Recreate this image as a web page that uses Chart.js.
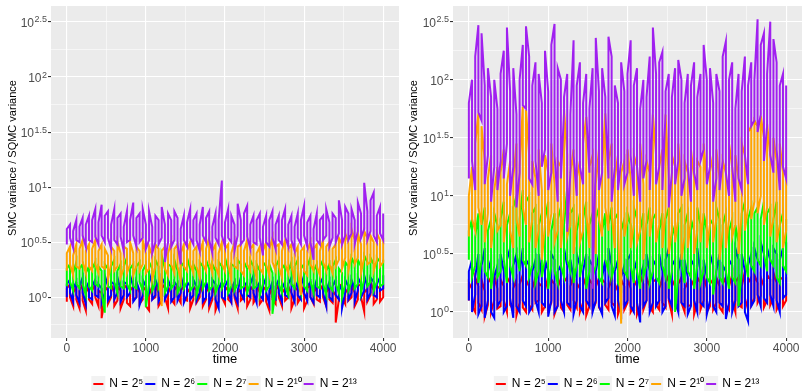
<!DOCTYPE html>
<html>
<head>
<meta charset="utf-8">
<script src="https://cdn.jsdelivr.net/npm/chart.js@4.4.1/dist/chart.umd.min.js"></script>
<style>
  body { margin: 0; background: #fff; }
  #wrap { position: relative; width: 803px; height: 391px; }
  #leftBox { position: absolute; left: 0; top: 0; width: 401px; height: 391px; }
  #rightBox { position: absolute; left: 401px; top: 0; width: 402px; height: 391px; }
</style>
</head>
<body>
<div id="wrap">
  <div id="leftBox"><canvas id="leftChart" width="401" height="391"></canvas></div>
  <div id="rightBox"><canvas id="rightChart" width="402" height="391"></canvas></div>
</div>
<script>
// --- data: log10(SMC variance / SQMC variance) ---
// each series is read as the low and high end of the trace in every 40-step column
const times = Array.from({ length: 101 }, (_, i) => i * 40);

const seriesLabels = ["N = 2⁵", "N = 2⁶", "N = 2⁷", "N = 2¹⁰", "N = 2¹³"];
const seriesColors = ["#FF0000", "#0000FF", "#00FF00", "#FFA500", "#A020F0"];

const xTickValues = [0, 1000, 2000, 3000, 4000];
const xGridValues = [0, 500, 1000, 1500, 2000, 2500, 3000, 3500, 4000];
const yTickExps = [0, 0.5, 1, 1.5, 2, 2.5];
const yGridExps = [-0.25, 0, 0.25, 0.5, 0.75, 1, 1.25, 1.5, 1.75, 2, 2.25, 2.5];
const yTitle = "SMC variance / SQMC variance";

// ---------- left panel ----------
const leftN5Hi = [
  0.08, 0.12, 0.04, 0.10, 0.06, 0.12, 0.04, 0.10, 0.06, 0.12,
  0.06, 0.04, 0.10, 0.06, 0.12, 0.04, 0.10, 0.06, 0.12, 0.08,
  0.06, 0.10, 0.12, 0.04, 0.10, 0.06, 0.02, 0.10, 0.12, 0.04,
  0.08, 0.12, 0.04, 0.10, 0.06, 0.12, 0.06, 0.10, 0.08, 0.04,
  0.10, 0.06, 0.12, 0.04, 0.10, 0.04, 0.10, 0.02, 0.08, 0.12,
  0.06, 0.10, 0.04, 0.12, 0.04, 0.08, 0.12, 0.04, 0.10, 0.06,
  0.12, 0.04, 0.10, 0.06, 0.02, 0.10, 0.06, 0.12, 0.04, 0.08,
  0.10, 0.04, 0.10, 0.06, 0.12, 0.02, 0.08, 0.12, 0.04, 0.10,
  0.06, 0.12, 0.04, 0.10, 0.06, 0.02, 0.10, 0.12, 0.04, 0.08,
  0.12, 0.04, 0.10, 0.12, 0.04, 0.08, 0.14, 0.06, 0.10, 0.08,
  0.12
];
const leftN5Lo = [
  -0.04, 0.00, -0.08, -0.02, -0.10, -0.03, -0.12, -0.02, -0.06, 0.00,
  -0.08, -0.19, -0.02, -0.06, 0.00, -0.08, -0.03, -0.10, -0.02, -0.05,
  -0.08, -0.02, 0.00, -0.06, -0.02, -0.08, -0.12, -0.02, 0.00, -0.08,
  -0.03, 0.00, -0.10, -0.02, -0.06, 0.00, -0.05, -0.02, -0.03, -0.10,
  -0.02, -0.05, 0.00, -0.08, -0.02, -0.10, -0.02, -0.12, -0.04, 0.00,
  -0.06, -0.02, -0.05, 0.00, -0.10, -0.03, 0.00, -0.08, -0.02, -0.05,
  0.00, -0.06, -0.02, -0.04, -0.12, -0.02, -0.06, 0.00, -0.08, -0.03,
  0.00, -0.10, -0.02, -0.05, 0.00, -0.10, -0.03, 0.00, -0.06, -0.02,
  -0.04, 0.00, -0.08, -0.02, -0.05, -0.23, -0.02, 0.00, -0.06, -0.03,
  0.00, -0.08, -0.02, 0.00, -0.13, -0.04, 0.02, -0.06, -0.02, -0.04,
  0.00
];
const leftN6Hi = [
  0.12, 0.16, 0.08, 0.14, 0.10, 0.18, 0.08, 0.14, 0.10, 0.16,
  0.12, 0.08, 0.20, 0.10, 0.14, 0.12, 0.18, 0.08, 0.14, 0.12,
  0.20, 0.10, 0.14, 0.06, 0.16, 0.10, 0.22, 0.12, 0.16, 0.08,
  0.18, 0.12, 0.16, 0.08, 0.14, 0.10, 0.20, 0.08, 0.14, 0.10,
  0.16, 0.10, 0.18, 0.08, 0.14, 0.06, 0.16, 0.12, 0.08, 0.14,
  0.10, 0.16, 0.08, 0.14, 0.06, 0.18, 0.10, 0.14, 0.12, 0.20,
  0.08, 0.14, 0.10, 0.18, 0.06, 0.14, 0.10, 0.16, 0.08, 0.14,
  0.12, 0.18, 0.08, 0.14, 0.10, 0.20, 0.10, 0.14, 0.06, 0.16,
  0.12, 0.18, 0.06, 0.14, 0.10, 0.16, 0.12, 0.06, 0.16, 0.10,
  0.16, 0.08, 0.18, 0.12, 0.20, 0.10, 0.18, 0.14, 0.12, 0.18,
  0.20
];
const leftN6Lo = [
  0.00, 0.04, -0.04, 0.02, -0.05, 0.04, -0.06, 0.00, -0.02, 0.02,
  0.00, -0.05, 0.04, -0.03, 0.02, -0.02, 0.04, -0.04, 0.02, 0.00,
  0.04, -0.04, 0.00, -0.07, 0.02, -0.02, 0.04, -0.02, 0.02, -0.04,
  0.02, -0.02, 0.04, -0.04, 0.00, -0.03, 0.04, -0.05, 0.02, -0.02,
  0.02, -0.03, 0.04, -0.04, 0.00, -0.05, 0.02, -0.02, -0.10, 0.00,
  -0.02, 0.04, -0.04, 0.02, -0.05, 0.04, -0.02, 0.02, 0.00, 0.04,
  -0.05, 0.02, -0.02, 0.04, -0.06, 0.00, -0.02, 0.04, -0.04, 0.02,
  0.00, 0.04, -0.04, 0.02, -0.02, 0.04, -0.03, 0.00, -0.05, 0.02,
  0.00, 0.04, -0.08, 0.00, -0.03, 0.02, -0.02, -0.10, 0.04, -0.02,
  0.04, -0.04, 0.06, 0.00, 0.06, -0.02, 0.04, 0.02, 0.00, 0.06,
  0.08
];
const leftN7Hi = [
  0.26, 0.30, 0.22, 0.32, 0.26, 0.30, 0.22, 0.28, 0.26, 0.32,
  0.28, 0.24, 0.30, 0.26, 0.28, 0.34, 0.24, 0.30, 0.28, 0.36,
  0.26, 0.30, 0.28, 0.32, 0.24, 0.30, 0.32, 0.26, 0.34, 0.28,
  0.38, 0.26, 0.30, 0.28, 0.34, 0.24, 0.32, 0.28, 0.36, 0.26,
  0.30, 0.24, 0.32, 0.28, 0.34, 0.26, 0.30, 0.24, 0.32, 0.28,
  0.36, 0.26, 0.30, 0.28, 0.34, 0.30, 0.32, 0.26, 0.34, 0.28,
  0.30, 0.24, 0.32, 0.28, 0.30, 0.22, 0.28, 0.34, 0.26, 0.30,
  0.24, 0.32, 0.28, 0.34, 0.26, 0.30, 0.28, 0.36, 0.24, 0.30,
  0.28, 0.34, 0.24, 0.30, 0.28, 0.34, 0.26, 0.22, 0.32, 0.28,
  0.36, 0.30, 0.34, 0.28, 0.38, 0.32, 0.36, 0.30, 0.36, 0.32,
  0.34
];
const leftN7Lo = [
  0.10, 0.14, 0.06, 0.12, 0.08, 0.12, 0.02, 0.10, 0.06, 0.12,
  0.10, 0.04, -0.14, 0.10, 0.08, 0.14, 0.04, 0.10, 0.08, 0.12,
  0.06, 0.10, 0.08, 0.14, 0.06, -0.09, 0.12, 0.06, 0.12, 0.08,
  0.14, 0.04, 0.10, 0.08, 0.12, 0.04, 0.10, 0.08, 0.14, 0.06,
  0.10, 0.02, 0.12, 0.08, 0.14, 0.06, 0.10, 0.04, 0.12, 0.08,
  0.14, 0.04, 0.10, 0.06, 0.12, 0.08, 0.10, 0.04, 0.12, 0.08,
  0.10, 0.02, 0.12, 0.06, 0.10, -0.15, 0.08, 0.12, 0.04, 0.10,
  0.02, 0.12, 0.08, 0.14, 0.04, 0.10, 0.06, 0.14, 0.04, 0.10,
  0.08, 0.12, 0.02, 0.10, 0.06, 0.12, 0.04, 0.00, 0.12, 0.06,
  0.14, 0.08, 0.12, 0.04, 0.16, 0.10, 0.14, 0.06, 0.14, 0.10,
  0.12
];
const leftN10Hi = [
  0.40, 0.46, 0.38, 0.48, 0.44, 0.52, 0.42, 0.48, 0.44, 0.52,
  0.42, 0.48, 0.44, 0.38, 0.46, 0.42, 0.50, 0.40, 0.46, 0.44,
  0.50, 0.40, 0.46, 0.42, 0.52, 0.40, 0.46, 0.38, 0.48, 0.44,
  0.42, 0.46, 0.40, 0.50, 0.44, 0.48, 0.40, 0.48, 0.42, 0.50,
  0.42, 0.46, 0.40, 0.50, 0.44, 0.54, 0.42, 0.48, 0.40, 0.50,
  0.44, 0.48, 0.40, 0.50, 0.46, 0.48, 0.42, 0.52, 0.44, 0.48,
  0.40, 0.46, 0.42, 0.50, 0.44, 0.54, 0.46, 0.48, 0.42, 0.52,
  0.44, 0.48, 0.40, 0.46, 0.42, 0.46, 0.42, 0.50, 0.44, 0.48,
  0.42, 0.52, 0.46, 0.50, 0.44, 0.48, 0.54, 0.48, 0.58, 0.50,
  0.62, 0.52, 0.58, 0.48, 0.60, 0.54, 0.56, 0.50, 0.58, 0.52,
  0.54
];
const leftN10Lo = [
  0.24, 0.30, 0.20, 0.28, 0.26, 0.32, 0.22, 0.28, 0.24, 0.30,
  0.22, 0.28, 0.26, 0.16, 0.30, 0.24, 0.28, 0.18, 0.26, 0.22,
  0.30, 0.20, 0.28, 0.24, 0.30, 0.22, 0.26, 0.16, 0.28, 0.24,
  -0.08, 0.26, 0.20, 0.30, 0.22, 0.28, 0.16, 0.28, 0.24, 0.30,
  0.22, 0.28, 0.18, 0.30, 0.24, 0.32, 0.22, 0.28, 0.20, 0.30,
  0.24, 0.30, 0.16, 0.28, 0.26, 0.24, 0.20, 0.30, 0.24, 0.28,
  0.18, 0.26, 0.22, 0.30, 0.20, 0.32, 0.24, 0.28, 0.18, 0.30,
  0.22, 0.28, 0.16, 0.26, 0.02, 0.24, 0.20, 0.30, 0.24, 0.28,
  0.20, 0.32, 0.24, 0.30, 0.22, 0.28, 0.34, 0.26, 0.36, 0.24,
  0.38, 0.30, 0.36, 0.22, 0.36, 0.30, 0.32, 0.24, 0.34, 0.28,
  0.32
];
const leftN13Hi = [
  0.62, 0.66, 0.60, 0.70, 0.64, 0.72, 0.66, 0.74, 0.70, 0.80,
  0.68, 0.84, 0.74, 0.78, 0.66, 0.80, 0.72, 0.76, 0.64, 0.78,
  0.70, 0.86, 0.72, 0.76, 0.80, 0.66, 0.78, 0.64, 0.74, 0.70,
  0.82, 0.66, 0.76, 0.70, 0.78, 0.72, 0.62, 0.74, 0.68, 0.80,
  0.70, 0.76, 0.66, 0.82, 0.72, 0.78, 0.64, 0.76, 0.70, 1.06,
  0.68, 0.80, 0.74, 0.66, 0.85, 0.70, 0.76, 0.83, 0.66, 0.74,
  0.70, 0.76, 0.64, 0.74, 0.70, 0.78, 0.66, 0.74, 0.70, 0.80,
  0.66, 0.74, 0.64, 0.76, 0.70, 0.83, 0.68, 0.74, 0.62, 0.76,
  0.70, 0.74, 0.80, 0.68, 0.76, 0.72, 0.88, 0.70, 0.82, 0.76,
  0.80, 0.70, 0.86, 0.76, 1.04, 0.78, 0.88, 0.95, 0.74, 0.82,
  0.76
];
const leftN13Lo = [
  0.48, 0.54, 0.45, 0.52, 0.50, 0.56, 0.46, 0.52, 0.50, 0.55,
  0.48, 0.56, 0.50, 0.54, 0.44, 0.52, 0.48, 0.55, 0.42, 0.50,
  0.52, 0.56, 0.46, 0.50, 0.54, 0.44, 0.52, 0.40, 0.50, 0.48,
  0.54, 0.32, 0.50, 0.46, 0.52, 0.48, 0.30, 0.52, 0.46, 0.54,
  0.48, 0.52, 0.42, 0.56, 0.50, 0.52, 0.40, 0.54, 0.48, 0.56,
  0.46, 0.54, 0.50, 0.42, 0.56, 0.48, 0.52, 0.55, 0.44, 0.50,
  0.48, 0.54, 0.38, 0.50, 0.46, 0.54, 0.44, 0.52, 0.48, 0.55,
  0.46, 0.52, 0.42, 0.54, 0.48, 0.56, 0.46, 0.50, 0.34, 0.52,
  0.48, 0.52, 0.56, 0.46, 0.54, 0.50, 0.58, 0.48, 0.56, 0.52,
  0.58, 0.48, 0.60, 0.54, 0.62, 0.52, 0.60, 0.56, 0.50, 0.58,
  0.52
];

// ---------- right panel ----------
const rightN5Hi = [
  0.25, 0.20, 0.30, 0.22, 0.28, 0.18, 0.30, 0.25, 0.32, 0.20,
  0.28, 0.22, 0.30, 0.25, 0.20, 0.28, 0.24, 0.32, 0.22, 0.28,
  0.20, 0.30, 0.25, 0.22, 0.30, 0.18, 0.28, 0.24, 0.30, 0.22,
  0.26, 0.30, 0.22, 0.32, 0.25, 0.20, 0.30, 0.22, 0.28, 0.24,
  0.30, 0.22, 0.28, 0.25, 0.20, 0.30, 0.24, 0.18, 0.28, 0.22,
  0.30, 0.20, 0.28, 0.22, 0.32, 0.24, 0.30, 0.22, 0.26, 0.28,
  0.20, 0.30, 0.25, 0.32, 0.22, 0.28, 0.24, 0.30, 0.20, 0.26,
  0.28, 0.22, 0.30, 0.25, 0.32, 0.20, 0.28, 0.24, 0.30, 0.22,
  0.24, 0.30, 0.22, 0.32, 0.26, 0.30, 0.22, 0.35, 0.25, 0.30,
  0.32, 0.25, 0.30, 0.22, 0.32, 0.28, 0.34, 0.25, 0.30, 0.28,
  0.30
];
const rightN5Lo = [
  0.10, 0.05, 0.00, 0.08, 0.02, -0.04, 0.06, 0.00, 0.10, 0.03,
  0.05, 0.10, 0.00, 0.06, 0.02, -0.03, 0.08, 0.04, 0.00, 0.06,
  0.02, 0.08, 0.10, 0.00, 0.05, 0.02, 0.08, -0.02, 0.06, 0.04,
  0.00, 0.06, 0.02, 0.10, 0.04, 0.00, 0.08, -0.03, 0.05, 0.02,
  0.08, 0.04, 0.00, 0.06, 0.02, 0.08, 0.05, -0.02, 0.06, 0.02,
  0.08, 0.00, 0.05, -0.02, 0.06, 0.02, 0.10, 0.04, 0.00, 0.06,
  0.02, 0.08, 0.04, 0.10, -0.02, 0.05, 0.02, 0.08, 0.00, 0.05,
  0.06, -0.02, 0.08, 0.02, 0.10, 0.00, 0.05, 0.02, 0.08, 0.04,
  0.00, 0.06, 0.02, 0.10, 0.00, 0.06, 0.04, 0.12, 0.02, 0.06,
  0.12, 0.08, 0.14, 0.04, 0.10, 0.06, 0.12, 0.02, 0.08, 0.05,
  0.10
];
const rightN6Hi = [
  0.35, 0.45, 0.30, 0.50, 0.40, 0.55, 0.35, 0.45, 0.30, 0.40,
  0.50, 0.35, 0.45, 0.55, 0.40, 0.50, 0.35, 0.55, 0.45, 0.40,
  0.35, 0.45, 0.50, 0.30, 0.45, 0.35, 0.50, 0.45, 0.35, 0.40,
  0.55, 0.40, 0.45, 0.30, 0.50, 0.40, 0.35, 0.50, 0.45, 0.40,
  0.35, 0.50, 0.30, 0.45, 0.55, 0.40, 0.35, 0.45, 0.30, 0.40,
  0.45, 0.50, 0.35, 0.45, 0.30, 0.40, 0.50, 0.35, 0.45, 0.40,
  0.50, 0.35, 0.45, 0.55, 0.40, 0.45, 0.35, 0.50, 0.45, 0.30,
  0.45, 0.40, 0.55, 0.35, 0.45, 0.30, 0.50, 0.40, 0.35, 0.50,
  0.40, 0.35, 0.45, 0.40, 0.55, 0.45, 0.50, 0.35, 0.40, 0.50,
  0.55, 0.45, 0.60, 0.50, 0.55, 0.45, 0.55, 0.50, 0.45, 0.55,
  0.60
];
const rightN6Lo = [
  0.10, 0.00, 0.15, -0.02, 0.05, -0.05, 0.10, 0.00, -0.05, 0.05,
  0.10, 0.00, 0.05, 0.12, -0.05, 0.05, 0.00, 0.10, 0.05, 0.00,
  0.05, 0.10, 0.00, 0.08, 0.05, -0.04, 0.10, 0.00, 0.05, 0.10,
  0.00, 0.08, 0.05, -0.02, 0.10, 0.05, 0.00, 0.10, 0.05, 0.00,
  0.10, 0.05, -0.02, 0.08, 0.12, 0.05, -0.03, 0.10, 0.00, 0.05,
  0.10, 0.05, 0.00, 0.08, -0.09, 0.05, 0.10, 0.00, 0.08, 0.05,
  0.10, 0.00, 0.05, 0.12, 0.05, 0.10, 0.00, 0.08, 0.05, -0.02,
  0.05, 0.10, 0.00, 0.08, 0.05, -0.02, 0.10, 0.05, 0.00, 0.08,
  0.05, -0.06, 0.08, 0.00, 0.10, 0.05, 0.08, 0.00, -0.08, 0.05,
  0.10, 0.15, 0.05, 0.12, 0.08, 0.15, 0.05, 0.10, 0.00, 0.12,
  0.15
];
const rightN7Hi = [
  0.70, 0.80, 0.65, 0.85, 0.75, 0.90, 0.70, 0.80, 0.85, 0.75,
  0.80, 0.95, 0.75, 0.85, 0.90, 1.00, 0.80, 1.05, 0.95, 1.00,
  0.85, 0.90, 0.75, 0.85, 0.80, 0.95, 0.70, 0.85, 0.80, 0.90,
  0.75, 1.07, 0.85, 0.90, 0.70, 0.85, 0.80, 0.95, 0.75, 0.85,
  0.80, 0.90, 0.70, 0.85, 0.75, 0.90, 0.80, 0.85, 0.70, 0.80,
  0.85, 0.75, 0.90, 0.80, 0.70, 0.85, 0.75, 0.90, 0.80, 0.85,
  0.70, 0.85, 0.80, 0.90, 0.75, 0.65, 0.85, 0.90, 0.75, 0.85,
  0.80, 0.70, 0.90, 0.75, 0.85, 0.70, 0.80, 0.75, 0.90, 0.80,
  0.75, 0.85, 0.70, 0.80, 0.75, 0.60, 0.85, 0.95, 0.80, 0.90,
  0.85, 0.90, 0.80, 0.95, 0.85, 0.90, 0.80, 0.95, 0.75, 0.85,
  0.80
];
const rightN7Lo = [
  0.45, 0.30, 0.40, 0.25, 0.45, 0.35, 0.30, 0.20, 0.40, 0.30,
  0.35, 0.45, 0.25, 0.40, 0.30, 0.50, 0.35, 0.45, 0.40, 0.30,
  0.40, 0.25, 0.35, 0.30, 0.45, 0.20, 0.40, 0.35, 0.25, 0.40,
  0.30, 0.45, 0.35, 0.25, 0.40, 0.30, 0.45, 0.20, 0.35, 0.30,
  0.40, 0.30, 0.25, 0.45, 0.35, 0.30, 0.40, 0.25, 0.20, 0.35,
  0.30, 0.40, 0.25, 0.35, 0.20, 0.30, 0.40, 0.25, 0.35, 0.30,
  0.25, 0.40, 0.30, 0.20, 0.35, 0.00, 0.30, 0.40, 0.25, 0.35,
  0.30, 0.20, 0.40, 0.25, 0.35, 0.30, 0.25, 0.15, 0.35, 0.30,
  0.25, 0.35, 0.20, 0.30, 0.25, 0.05, 0.35, 0.45, 0.30, 0.40,
  0.35, 0.45, 0.40, 0.50, 0.35, 0.45, 0.40, 0.30, 0.25, 0.40,
  0.35
];
const rightN10Hi = [
  1.00, 1.25, 1.45, 1.71, 1.60, 1.30, 1.15, 1.35, 1.05, 1.25,
  1.20, 1.40, 1.10, 1.30, 1.15, 1.45, 1.25, 1.77, 1.74, 1.35,
  1.30, 1.15, 1.40, 1.05, 1.35, 1.20, 1.45, 1.10, 1.30, 1.25,
  1.74, 1.35, 1.20, 1.40, 1.15, 1.30, 1.45, 1.68, 1.25, 1.35,
  1.10, 1.40, 1.25, 1.71, 1.30, 1.45, 1.15, 1.35, 1.20, 1.30,
  1.40, 1.15, 1.35, 1.25, 1.45, 1.10, 1.30, 1.20, 1.70, 1.35,
  1.25, 1.40, 1.70, 1.15, 1.35, 1.25, 1.45, 1.10, 1.30, 1.20,
  1.40, 1.15, 1.30, 1.25, 1.45, 1.10, 1.35, 1.20, 1.40, 1.15,
  1.30, 1.20, 1.45, 1.25, 1.35, 1.15, 1.45, 1.35, 1.55, 1.60,
  1.65, 1.60, 1.69, 1.50, 1.62, 1.35, 1.50, 1.30, 1.45, 1.20,
  1.25
];
const rightN10Lo = [
  0.65, 0.80, 0.70, 0.90, 0.75, 0.60, 0.85, 0.55, 0.80, 0.70,
  0.75, 0.60, 0.85, 0.70, 0.55, 0.80, 0.65, 0.90, 0.75, 0.60,
  0.80, 0.55, 0.70, 0.45, 0.75, 0.65, 0.85, 0.60, 0.70, 0.55,
  0.90, 0.65, 0.75, 0.50, 0.80, 0.60, 0.70, 0.85, 0.55, 0.75,
  0.50, 0.80, 0.65, 0.90, 0.70, 0.85, 0.55, 0.75, -0.10, 0.65,
  0.80, 0.55, 0.75, 0.60, 0.70, 0.45, 0.80, 0.65, 0.85, 0.60,
  0.75, 0.55, 0.85, 0.50, 0.70, 0.60, 0.80, 0.45, 0.65, 0.55,
  0.80, 0.50, 0.70, 0.60, 0.85, 0.55, 0.75, 0.60, 0.80, 0.45,
  0.70, 0.55, 0.80, 0.65, 0.75, 0.50, 0.85, 0.70, 0.90, 0.80,
  0.95, 0.85, 1.00, 0.75, 0.90, 0.65, 0.80, 0.60, 0.75, 0.55,
  0.70
];
const rightN13Hi = [
  1.80, 2.00, 2.20, 2.47, 2.40, 1.95, 2.10, 1.85, 2.00, 1.75,
  2.05, 2.25, 2.45, 1.90, 2.10, 1.70, 2.00, 2.30, 2.46, 2.20,
  1.95, 2.15, 2.05, 1.80, 2.25, 1.90, 2.30, 2.48, 2.10, 2.00,
  1.85, 2.05, 1.70, 2.34, 1.95, 2.15, 1.80, 2.05, 1.75, 2.10,
  2.36, 1.90, 2.10, 1.85, 2.37, 2.20, 1.95, 1.80, 2.15, 1.90,
  2.05, 2.34, 1.95, 2.10, 1.75, 2.00, 1.85, 2.20, 2.45, 2.05,
  2.15, 2.24, 1.90, 2.05, 1.85, 2.10, 2.17, 2.00, 1.80, 2.05,
  1.95, 2.15, 1.85, 2.05, 2.30, 2.00, 2.10, 1.80, 2.05, 1.90,
  2.20, 2.33, 2.00, 2.15, 1.75, 2.05, 1.90, 2.20, 1.95, 2.15,
  2.00, 2.52, 2.30, 2.40, 2.05, 2.50, 2.35, 2.15, 1.95, 2.05,
  1.95
];
const rightN13Lo = [
  1.15, 1.30, 1.05, 1.72, 1.65, 1.10, 1.35, 0.95, 1.25, 1.05,
  1.30, 1.15, 1.45, 1.00, 1.25, 0.90, 1.20, 1.78, 1.75, 1.15,
  1.10, 1.30, 1.00, 1.25, 1.40, 1.05, 1.20, 1.35, 0.95, 1.15,
  1.72, 0.69, 1.20, 1.35, 1.00, 1.25, 1.10, 1.70, 1.20, 0.20,
  1.30, 1.05, 1.20, 1.72, 1.15, 0.95, 1.25, 1.05, 1.30, 1.10,
  1.20, 1.35, 1.00, 1.25, 0.95, 1.15, 1.30, 1.05, 1.72, 1.10,
  1.25, 1.05, 1.72, 0.90, 1.20, 1.10, 1.30, 1.00, 1.15, 1.25,
  0.95, 1.20, 1.05, 1.30, 1.40, 1.10, 1.25, 0.95, 1.15, 1.05,
  1.30, 1.20, 1.00, 1.25, 0.95, 1.15, 1.05, 1.35, 1.10, 1.60,
  1.65, 1.55, 1.70, 1.30, 1.60, 1.35, 1.20, 1.40, 1.05, 1.25,
  1.15
];

// --- helpers ---
const FONT = "'Liberation Sans', Arial, sans-serif";
Chart.defaults.font.family = FONT;
Chart.defaults.animation = false;

const near = (list, v) => list.some(e => Math.abs(e - v) < 1e-6);

// one trace per series: a vertical stroke per column, joined low-high-high-low...
function tracePoints(lo, hi) {
  const pts = [];
  times.forEach((t, j) => {
    if (j % 2 === 0) pts.push({ x: t, y: lo[j] }, { x: t, y: hi[j] });
    else pts.push({ x: t, y: hi[j] }, { x: t, y: lo[j] });
  });
  return pts;
}

// grey panel, legend key backgrounds, y labels like 10^0.5 and the y title
const ggLook = {
  id: "ggLook",
  beforeDraw(chart) {
    const { ctx, chartArea: a } = chart;
    ctx.save();
    ctx.fillStyle = "#EBEBEB";
    ctx.fillRect(a.left, a.top, a.right - a.left, a.bottom - a.top);
    const boxes = chart.legend && chart.legend.legendHitBoxes;
    if (boxes) {
      ctx.fillStyle = "#F2F2F2";
      boxes.forEach(b => ctx.fillRect(b.left - 2, b.top + b.height / 2 - 8, 14, 16));
    }
    ctx.restore();
  },
  afterDraw(chart) {
    const { ctx } = chart;
    const s = chart.scales.y;
    ctx.save();
    ctx.fillStyle = "#4D4D4D";
    ctx.textAlign = "left";
    ctx.textBaseline = "alphabetic";
    yTickExps.forEach(e => {
      if (e < s.min || e > s.max) return;
      const y = s.getPixelForValue(e);
      const exp = String(e);
      ctx.font = "9px " + FONT;
      const ew = ctx.measureText(exp).width;
      ctx.font = "12px " + FONT;
      const bw = ctx.measureText("10").width;
      const right = s.right - 4;
      ctx.fillText("10", right - ew - bw - 0.5, y + 5);
      ctx.font = "9px " + FONT;
      ctx.fillText(exp, right - ew, y + 0.5);
    });
    // y axis title
    ctx.fillStyle = "#000";
    ctx.font = "11px " + FONT;
    ctx.textAlign = "center";
    ctx.textBaseline = "middle";
    ctx.translate(s.left + 13, 158);
    ctx.rotate(-Math.PI / 2);
    ctx.fillText(yTitle, 0, 0);
    ctx.restore();
  }
};

function buildConfig(series, yMin, yMax, yAxisWidth, padRight) {
  const datasets = series.map(([lo, hi], i) => ({
    label: seriesLabels[i],
    data: tracePoints(lo, hi),
    borderColor: seriesColors[i],
    backgroundColor: seriesColors[i],
    borderWidth: 2,
    pointRadius: 0,
    fill: false,
    tension: 0,
    order: series.length - i   // purple drawn on top
  }));

  return {
    type: "line",
    data: { datasets },
    options: {
      responsive: false,
      layout: { padding: { top: 6, right: padRight, left: 0, bottom: -9 } },
      plugins: {
        tooltip: { enabled: false },
        legend: {
          position: "bottom",
          fullSize: false,
          labels: {
            usePointStyle: true,
            pointStyle: "line",
            pointStyleWidth: 10,
            padding: 2,
            color: "#000",
            font: { size: 12 },
            sort: (a, b) => a.datasetIndex - b.datasetIndex
          }
        }
      },
      scales: {
        x: {
          type: "linear",
          min: -200,
          max: 4200,
          afterBuildTicks: s => { s.ticks = xGridValues.map(v => ({ value: v })); },
          afterFit: s => { s.height = 38; },
          border: { display: false },
          grid: {
            color: "#FFFFFF",
            lineWidth: c => (near(xTickValues, c.tick.value) ? 1.1 : 0.55),
            tickColor: c => (near(xTickValues, c.tick.value) ? "#333333" : "rgba(0,0,0,0)"),
            tickLength: 3
          },
          ticks: {
            autoSkip: false,
            maxRotation: 0,
            padding: 0,
            color: "#4D4D4D",
            font: { size: 12 },
            callback: v => (near(xTickValues, v) ? String(v) : "")
          },
          title: {
            display: true,
            text: "time",
            color: "#000",
            font: { size: 13 },
            padding: { top: 0, bottom: 9 }
          }
        },
        y: {
          type: "linear",
          min: yMin,
          max: yMax,
          afterBuildTicks: s => {
            s.ticks = yGridExps.filter(v => v >= yMin && v <= yMax).map(v => ({ value: v }));
          },
          afterFit: s => { s.width = yAxisWidth; },
          border: { display: false },
          grid: {
            color: "#FFFFFF",
            lineWidth: c => (near(yTickExps, c.tick.value) ? 1.1 : 0.55),
            tickColor: c => (near(yTickExps, c.tick.value) ? "#333333" : "rgba(0,0,0,0)"),
            tickLength: 3
          },
          ticks: { display: false },
          title: { display: false }
        }
      }
    },
    plugins: [ggLook]
  };
}

new Chart(document.getElementById("leftChart"), buildConfig([
  [leftN5Lo, leftN5Hi], [leftN6Lo, leftN6Hi], [leftN7Lo, leftN7Hi],
  [leftN10Lo, leftN10Hi], [leftN13Lo, leftN13Hi]
], -0.37, 2.645, 51, 2));
new Chart(document.getElementById("rightChart"), buildConfig([
  [rightN5Lo, rightN5Hi], [rightN6Lo, rightN6Hi], [rightN7Lo, rightN7Hi],
  [rightN10Lo, rightN10Hi], [rightN13Lo, rightN13Hi]
], -0.224, 2.635, 52, 1));
</script>
</body>
</html>
